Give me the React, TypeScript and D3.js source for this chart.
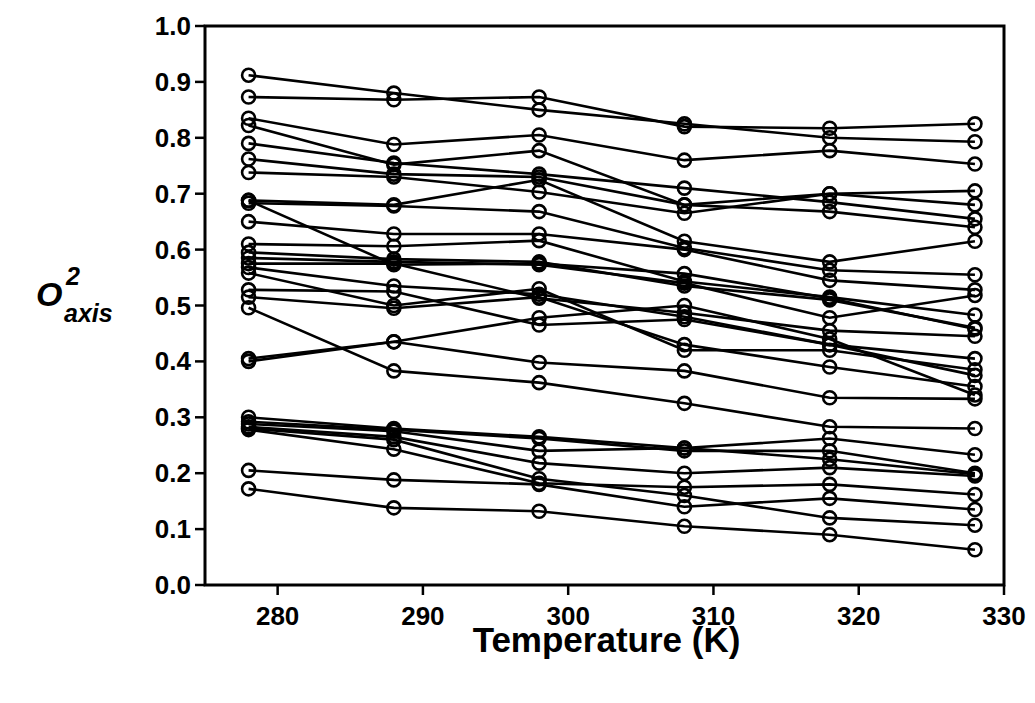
import * as d3 from 'd3';

const temps = [278, 288, 298, 308, 318, 328];
const series: number[][] = [
  [0.912, 0.880, 0.850, 0.825, 0.800, 0.793],
  [0.873, 0.868, 0.873, 0.820, 0.817, 0.825],
  [0.835, 0.788, 0.805, 0.760, 0.777, 0.753],
  [0.822, 0.752, 0.777, 0.680, 0.700, 0.680],
  [0.790, 0.755, 0.735, 0.710, 0.685, 0.655],
  [0.762, 0.735, 0.730, 0.680, 0.668, 0.640],
  [0.738, 0.730, 0.703, 0.665, 0.700, 0.705],
  [0.688, 0.680, 0.725, 0.615, 0.578, 0.615],
  [0.688, 0.573, 0.575, 0.557, 0.513, 0.458],
  [0.683, 0.678, 0.668, 0.603, 0.563, 0.555],
  [0.650, 0.628, 0.628, 0.600, 0.545, 0.528],
  [0.610, 0.606, 0.616, 0.543, 0.515, 0.483],
  [0.595, 0.583, 0.578, 0.535, 0.510, 0.460],
  [0.585, 0.578, 0.573, 0.540, 0.478, 0.518],
  [0.575, 0.575, 0.513, 0.487, 0.455, 0.445],
  [0.568, 0.535, 0.520, 0.480, 0.430, 0.405],
  [0.558, 0.500, 0.530, 0.420, 0.420, 0.385],
  [0.528, 0.525, 0.465, 0.475, 0.430, 0.375],
  [0.515, 0.495, 0.515, 0.430, 0.390, 0.355],
  [0.496, 0.383, 0.362, 0.325, 0.283, 0.280],
  [0.405, 0.435, 0.478, 0.500, 0.440, 0.340],
  [0.400, 0.435, 0.398, 0.383, 0.335, 0.333],
  [0.300, 0.280, 0.265, 0.245, 0.262, 0.233],
  [0.292, 0.278, 0.262, 0.240, 0.240, 0.200],
  [0.288, 0.275, 0.240, 0.245, 0.225, 0.198],
  [0.283, 0.265, 0.218, 0.200, 0.210, 0.195],
  [0.278, 0.243, 0.182, 0.175, 0.180, 0.162],
  [0.280, 0.260, 0.190, 0.160, 0.120, 0.107],
  [0.205, 0.188, 0.180, 0.140, 0.155, 0.135],
  [0.172, 0.138, 0.132, 0.105, 0.090, 0.063],
];
const xTicks = [280, 290, 300, 310, 320, 330];
const yTicks = d3.range(0, 11).map(i => i / 10);

export default function App() {
  const left = 205, right = 1004, top = 26, bottom = 585;
  const x = d3.scaleLinear().domain([275, 330]).range([left, right]);
  const y = d3.scaleLinear().domain([0, 1]).range([bottom, top]);
  const line = d3.line<number>().x((_, i) => x(temps[i])).y(d => y(d));
  const font = 'Liberation Sans, Arial, sans-serif';

  return (
    <svg width={1035} height={703} style={{ position: 'absolute', left: 0, top: 0 }}
      fontFamily={font} fontWeight="bold">
      <rect width={1035} height={703} fill="#fff" />
      {series.map((s, k) => (
        <path key={k} d={line(s) ?? ''} fill="none" stroke="#000" strokeWidth={2.6} />
      ))}
      {series.map((s, k) => s.map((v, i) => (
        <circle key={`${k}-${i}`} cx={x(temps[i])} cy={y(v)} r={6.5} fill="none" stroke="#000" strokeWidth={2.6} />
      )))}
      <rect x={left} y={top} width={right - left} height={bottom - top} fill="none" stroke="#000" strokeWidth={3} />
      {xTicks.map(t => (
        <g key={t}>
          <line x1={x(t)} x2={x(t)} y1={bottom} y2={bottom + 10} stroke="#000" strokeWidth={2.5} />
          <text x={x(t)} y={bottom + 40} textAnchor="middle" fontSize={26}>{t}</text>
        </g>
      ))}
      {yTicks.map(t => (
        <g key={t}>
          <line x1={left - 10} x2={left} y1={y(t)} y2={y(t)} stroke="#000" strokeWidth={2.5} />
          <text x={left - 14} y={y(t) + 9} textAnchor="end" fontSize={26}>{t.toFixed(1)}</text>
        </g>
      ))}
      <text x={(left + right) / 2 + 2} y={652} textAnchor="middle" fontSize={35}>Temperature (K)</text>
      <text x={36} y={306} fontSize={34} fontStyle="italic">
        O
        <tspan x={66} y={285} fontSize={25}>2</tspan>
        <tspan x={64} y={322} fontSize={25}>axis</tspan>
      </text>
    </svg>
  );
}
